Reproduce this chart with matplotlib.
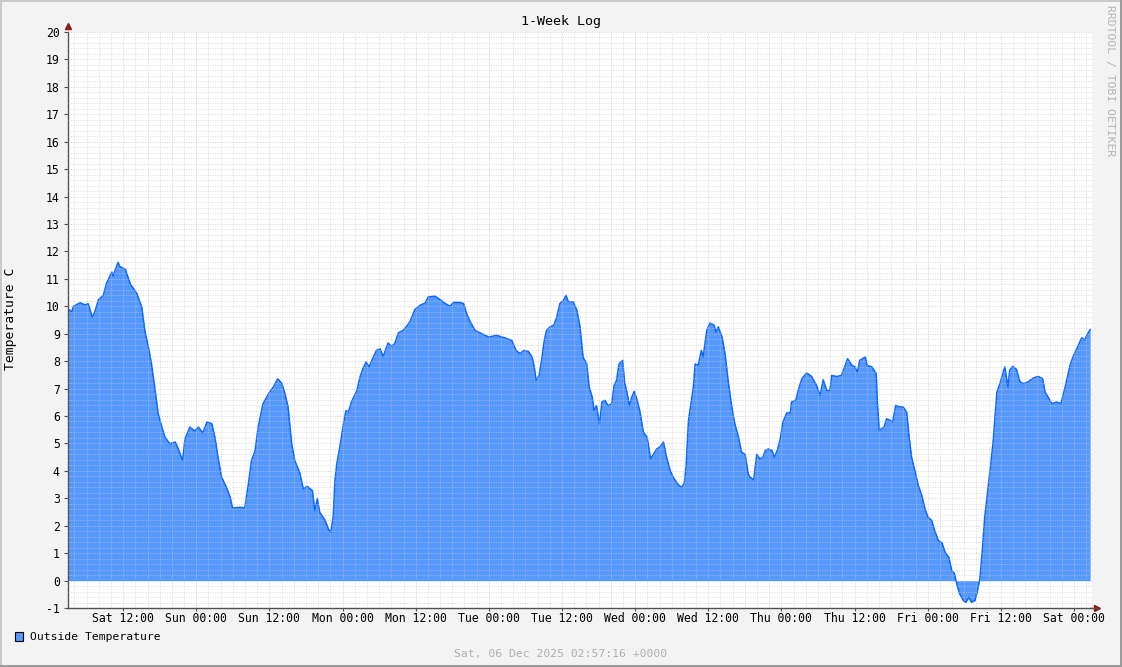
import matplotlib
matplotlib.use("Agg")
import matplotlib.pyplot as plt
import matplotlib.dates as mdates
from matplotlib.patches import Rectangle
import pandas as pd

plt.rcParams['font.family'] = ['DejaVu Sans Mono']
plt.rcParams['axes.unicode_minus'] = False

# 1-week window ending Sat 06 Dec 2025 02:57:16
start = pd.Timestamp("2025-11-29 02:57:16")
end = pd.Timestamp("2025-12-06 02:57:16")

# hours since start, outside temperature (C)
hours = [
    0.0, 0.6, 0.9, 2.0, 2.8, 3.3, 4.0, 4.4, 5.0, 5.8, 6.3, 7.2, 7.4, 8.2, 8.5, 9.4,
    10.2, 11.3, 12.1, 12.6, 13.2, 13.7, 14.3, 14.8, 15.4, 15.9, 16.7, 17.6, 18.1,
    18.8, 19.2, 20.0, 20.8, 21.4, 22.1, 22.8, 23.6, 24.1, 24.7, 25.2, 26.0, 26.6,
    27.0, 28.2, 29.0, 29.6, 30.1, 30.7, 31.2, 32.0, 32.9, 33.7, 34.4, 35.1, 35.6,
    36.1, 36.7, 37.2, 38.0, 38.6, 39.3, 40.1, 40.5, 40.9, 41.3, 42.2, 42.7, 43.1,
    43.5, 43.8, 44.1, 44.6, 45.2, 45.6, 46.0, 46.5, 47.4, 47.9, 48.4, 48.9, 49.4,
    50.1, 50.6, 51.2, 51.7, 52.5, 53.1, 53.6, 54.2, 55.0, 56.1, 56.9, 57.8, 58.6,
    59.1, 60.2, 61.0, 61.9, 62.7, 63.2, 64.3, 64.9, 65.4, 66.0, 66.8, 67.9, 69.0,
    70.3, 71.2, 72.0, 72.8, 73.5, 74.2, 74.7, 75.5, 76.1, 76.5, 76.8, 77.3, 77.7,
    78.1, 78.5, 79.1, 79.7, 80.2, 80.7, 81.3, 81.7, 82.1, 82.9, 83.5, 84.0, 84.5,
    85.1, 85.5, 86.0, 86.3, 86.7, 87.2, 87.6, 88.1, 88.6, 89.2, 89.6, 90.0, 90.4,
    91.0, 91.3, 91.7, 92.1, 92.5, 92.9, 93.3, 93.8, 94.4, 95.0, 95.6, 96.1, 96.6,
    97.1, 97.7, 98.2, 98.8, 99.3, 100.0, 100.6, 101.1, 101.4, 101.8, 102.2, 102.6,
    102.9, 103.4, 103.9, 104.2, 104.8, 105.3, 106.0, 106.3, 106.7, 107.3, 107.8,
    108.3, 108.9, 109.4, 110.0, 110.5, 111.1, 111.6, 111.9, 112.5, 113.0, 113.5,
    114.0, 114.4, 114.9, 115.5, 115.9, 116.4, 116.8, 117.3, 117.9, 118.5, 118.7,
    119.4, 119.8, 120.4, 121.2, 122.0, 122.8, 123.4, 123.9, 124.5, 125.0, 125.3,
    126.1, 126.9, 127.5, 127.9, 128.6, 129.1, 129.5, 129.9, 130.8, 131.1, 131.9,
    132.6, 132.8, 133.1, 133.5, 133.9, 134.3, 134.9, 135.3, 135.8, 136.5, 137.0,
    137.6, 138.0, 138.4, 139.0, 139.5, 140.0, 140.6, 141.1, 141.7, 142.2, 142.8,
    143.4, 143.9, 144.5, 145.0, 145.4, 145.8, 146.3, 146.9, 147.3, 147.8, 148.2,
    148.8, 149.2, 149.6, 150.0, 150.4, 150.9, 151.4, 151.8, 152.1, 152.4, 152.9,
    153.2, 153.7, 154.2, 154.5, 155.0, 155.6, 156.2, 156.7, 157.5, 158.4, 159.2,
    159.9, 160.3, 160.8, 161.4, 162.2, 162.9, 163.6, 164.4, 164.9, 165.5, 166.3,
    166.8, 167.2, 167.7,
]
temps = [
    9.9, 9.8, 10.0, 10.13, 10.05, 10.1, 9.6, 9.8, 10.24, 10.4, 10.83, 11.25, 11.1,
    11.6, 11.45, 11.35, 10.83, 10.46, 9.97, 9.12, 8.5, 7.9, 6.93, 6.08, 5.6, 5.23,
    4.99, 5.05, 4.8, 4.38, 5.17, 5.6, 5.45, 5.6, 5.38, 5.78, 5.72, 5.23, 4.38, 3.77,
    3.4, 3.04, 2.65, 2.67, 2.65, 3.53, 4.38, 4.74, 5.6, 6.45, 6.81, 7.06, 7.36, 7.18,
    6.81, 6.33, 4.99, 4.38, 3.95, 3.35, 3.43, 3.28, 2.55, 2.98, 2.49, 2.19, 1.89,
    1.76, 2.31, 3.65, 4.26, 4.87, 5.72, 6.2, 6.14, 6.51, 6.93, 7.42, 7.73, 7.97,
    7.79, 8.15, 8.39, 8.45, 8.17, 8.66, 8.54, 8.64, 9.03, 9.12, 9.43, 9.88, 10.04,
    10.12, 10.34, 10.37, 10.25, 10.1, 10.0, 10.14, 10.14, 10.1, 9.73, 9.43, 9.12,
    9.0, 8.88, 8.94, 8.88, 8.82, 8.76, 8.39, 8.27, 8.39, 8.36, 8.17, 7.79, 7.3, 7.48,
    8.03, 8.7, 9.12, 9.25, 9.31, 9.61, 10.1, 10.22, 10.4, 10.16, 10.16, 9.85, 9.25,
    8.15, 7.9, 7.06, 6.69, 6.2, 6.38, 5.72, 6.51, 6.57, 6.38, 6.45, 7.12, 7.3, 7.9,
    8.03, 7.24, 6.87, 6.38, 6.69, 6.9, 6.63, 6.2, 5.41, 5.23, 4.44, 4.62, 4.8, 4.87,
    5.05, 4.5, 4.01, 3.77, 3.53, 3.4, 3.53, 4.14, 5.84, 6.45, 7.06, 7.9, 7.85, 8.39,
    8.15, 9.12, 9.39, 9.31, 9.06, 9.25, 8.88, 8.27, 7.3, 6.33, 5.72, 5.23, 4.68, 4.6,
    3.89, 3.77, 3.67, 4.6, 4.44, 4.48, 4.74, 4.8, 4.74, 4.5, 4.77, 5.11, 5.78, 6.11,
    6.11, 6.51, 6.57, 6.93, 7.36, 7.57, 7.44, 7.12, 6.75, 7.32, 6.93, 6.93, 7.48,
    7.44, 7.48, 7.85, 8.09, 7.85, 7.79, 7.6, 8.03, 8.15, 7.85, 7.79, 7.54, 6.45, 5.47,
    5.54, 5.6, 5.9, 5.84, 5.78, 6.39, 6.33, 6.33, 6.14, 5.23, 4.5, 3.95, 3.47, 3.16,
    2.62, 2.31, 2.19, 1.82, 1.46, 1.37, 1.03, 0.85, 0.36, 0.27, -0.12, -0.49, -0.73,
    -0.79, -0.61, -0.79, -0.73, -0.37, 0.06, 1.09, 2.31, 3.28, 4.26, 5.11, 6.02,
    6.87, 7.18, 7.42, 7.79, 7.06, 7.67, 7.81, 7.7, 7.24, 7.18, 7.24, 7.39, 7.44,
    7.36, 6.87, 6.69, 6.45, 6.51, 6.45, 7.06, 7.85, 8.17, 8.45, 8.85, 8.78, 8.97, 9.15,
]

times = start + pd.to_timedelta(hours, unit="h")

W, H = 1122, 667
fig = plt.figure(figsize=(W / 100, H / 100), dpi=100, facecolor="#f3f3f3")
ax = fig.add_axes([68 / W, (H - 608) / H, 1024 / W, 576 / H])
ax.set_facecolor("white")

ax.fill_between(times, 0, temps, color="#5599ff", linewidth=0, zorder=1)
ax.plot(times, temps, color="#0a66ff", linewidth=1.1, zorder=2)

ax.set_xlim(start, end)
ax.set_ylim(-1, 20)
ax.set_yticks(range(-1, 21))
ax.set_yticks([i / 5 for i in range(-5, 101) if i % 5], minor=True)
ax.xaxis.set_major_locator(mdates.HourLocator(byhour=[0, 12]))
ax.xaxis.set_minor_locator(mdates.HourLocator(byhour=[h for h in range(0, 24, 2) if h % 12]))
ax.xaxis.set_major_formatter(mdates.DateFormatter("%a %H:%M"))

ax.set_axisbelow(False)
ax.grid(which="minor", color="#c8c8c8", alpha=0.5, linestyle=(0, (1.2, 1.2)), linewidth=0.72)
ax.grid(which="major", color="#c8c0dc", alpha=0.6, linestyle=(0, (1.2, 1.2)), linewidth=0.72)

for s in ["top", "right"]:
    ax.spines[s].set_visible(False)
for s in ["left", "bottom"]:
    ax.spines[s].set_color("#505050")
    ax.spines[s].set_linewidth(1.0)
ax.tick_params(which="both", length=0)
ax.tick_params(which="major", axis="y", length=3, color="#505050", pad=3, labelsize=8.3)
ax.tick_params(which="major", axis="x", length=2, color="#505050", pad=1, labelsize=8.3)

# axis arrows
ax.plot([0], [1 + 6 / 576], marker="^", color="#8b1a1a", markersize=4.5,
        transform=ax.transAxes, clip_on=False)
ax.plot([1 + 5 / 1024], [0], marker=">", color="#8b1a1a", markersize=4.5,
        transform=ax.transAxes, clip_on=False)
ax.plot([1, 1 + 5 / 1024], [0, 0], color="#505050", linewidth=1.0,
        transform=ax.transAxes, clip_on=False)

fig.text(561 / W, 1 - 21 / H, "1-Week Log", ha="center", va="center", fontsize=9.6)
fig.text(11 / W, 1 - 319 / H, "Temperature C", rotation=90, ha="center", va="center",
         fontsize=9.4)
fig.text(1110 / W, 1 - 5 / H, "RRDTOOL / TOBI OETIKER", rotation=270, ha="center",
         va="top", fontsize=8.2, color="#b4b4b4")
fig.text(561 / W, 1 - 654 / H, "Sat, 06 Dec 2025 02:57:16 +0000", ha="center",
         va="center", fontsize=8.2, color="#b0b0b0")

# legend
fig.patches.append(Rectangle((15 / W, 1 - 641 / H), 8 / W, 9 / H, transform=fig.transFigure,
                             facecolor="#5599ff", edgecolor="black", linewidth=0.8))
fig.text(30 / W, 1 - 637 / H, "Outside Temperature", ha="left", va="center", fontsize=8.2)

# outer border
fig.patches.append(Rectangle((0.5 / W, 0.5 / H), (W - 1.5) / W, (H - 1.5) / H,
                             transform=fig.transFigure, fill=False,
                             edgecolor="#c8c8c8", linewidth=1.4))
fig.add_artist(plt.Line2D([1 - 1 / W, 1 - 1 / W], [0, 1], color="#9a9a9a", linewidth=1.4))
fig.add_artist(plt.Line2D([0, 1], [1 / H, 1 / H], color="#9a9a9a", linewidth=1.4))

fig.savefig("out.png", dpi=100, facecolor=fig.get_facecolor())
